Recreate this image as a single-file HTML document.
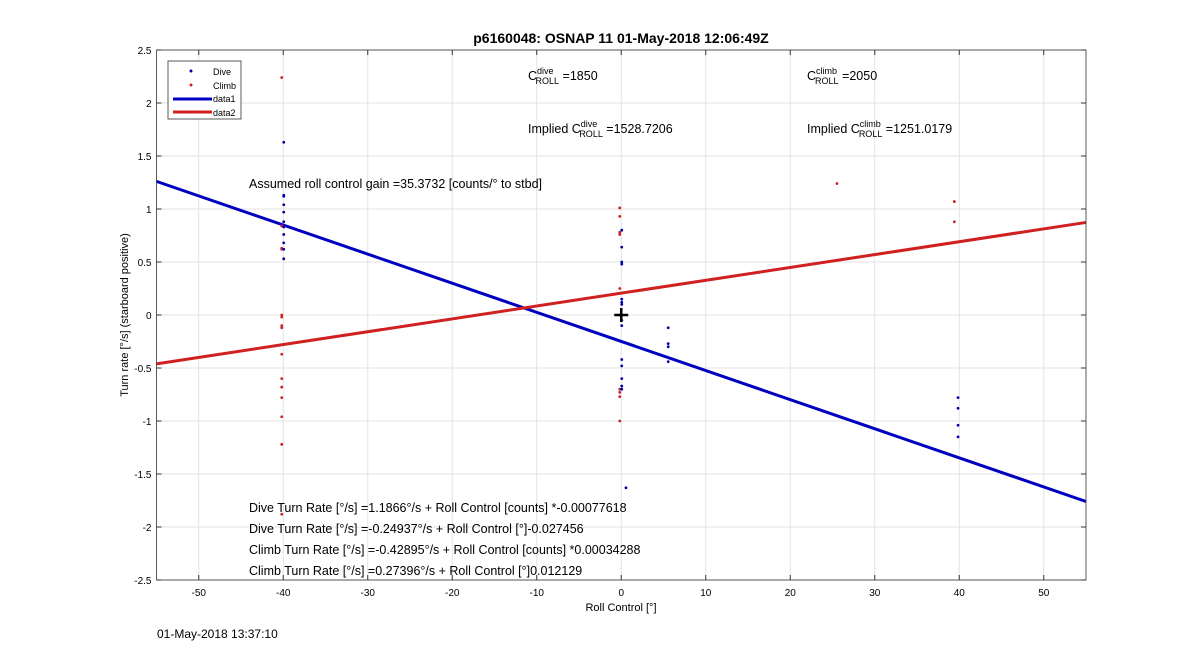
<!DOCTYPE html>
<html><head><meta charset="utf-8"><style>
body{margin:0;background:#fff;font-family:"Liberation Sans",sans-serif}
svg text{font-family:"Liberation Sans",sans-serif}
</style></head><body>
<svg width="1200" height="652" xmlns="http://www.w3.org/2000/svg" id="c">
<text x="621" y="43" text-anchor="middle" font-size="14" font-weight="bold">p6160048: OSNAP 11 01-May-2018 12:06:49Z</text>
<g id="grid"></g><g id="marks"></g><g id="axes"></g>
<text x="621" y="611" text-anchor="middle" font-size="11">Roll Control [°]</text>
<text transform="translate(128,315) rotate(-90)" text-anchor="middle" font-size="11">Turn rate [°/s] (starboard positive)</text>
<g font-size="12.5">
<text x="528" y="80">C<tspan font-size="9" dy="-6">dive</tspan><tspan font-size="9" dx="-18" dy="10">ROLL</tspan><tspan dy="-4"> =1850</tspan></text>
<text x="807" y="80">C<tspan font-size="9" dy="-6">climb</tspan><tspan font-size="9" dx="-22" dy="10">ROLL</tspan><tspan dy="-4"> =2050</tspan></text>
<text x="528" y="133">Implied C<tspan font-size="9" dy="-6">dive</tspan><tspan font-size="9" dx="-18" dy="10">ROLL</tspan><tspan dy="-4"> =1528.7206</tspan></text>
<text x="807" y="133">Implied C<tspan font-size="9" dy="-6">climb</tspan><tspan font-size="9" dx="-22" dy="10">ROLL</tspan><tspan dy="-4"> =1251.0179</tspan></text>
<text x="249" y="188">Assumed roll control gain =35.3732 [counts/° to stbd]</text>
<text x="249" y="512">Dive Turn Rate [°/s] =1.1866°/s + Roll Control [counts] *-0.00077618</text>
<text x="249" y="533">Dive Turn Rate [°/s] =-0.24937°/s + Roll Control [°]-0.027456</text>
<text x="249" y="554">Climb Turn Rate [°/s] =-0.42895°/s + Roll Control [counts] *0.00034288</text>
<text x="249" y="575">Climb Turn Rate [°/s] =0.27396°/s + Roll Control [°]0.012129</text>
</g>
<text x="157" y="638" font-size="12">01-May-2018 13:37:10</text>
<g>
<rect x="168" y="61" width="73" height="58" fill="#fff" stroke="#333" stroke-width="0.8"/>
<circle cx="191" cy="71" r="1.5" fill="#0000b0"/><text x="213" y="75" font-size="9">Dive</text>
<circle cx="191" cy="85" r="1.5" fill="#d02020"/><text x="213" y="89" font-size="9">Climb</text>
<line x1="173" y1="99" x2="212" y2="99" stroke="#0000c0" stroke-width="3"/><text x="213" y="102" font-size="9">data1</text>
<line x1="173" y1="112" x2="212" y2="112" stroke="#d02020" stroke-width="3"/><text x="213" y="116" font-size="9">data2</text>
</g>
</svg>
<script>
const xTicks=[-50,-40,-30,-20,-10,0,10,20,30,40,50];
const yTicks=[-2.5,-2,-1.5,-1,-0.5,0,0.5,1,1.5,2,2.5];
const diveX=[-40,-40,-40,-40,-40,-40,-40,-40,-40,-40,-40,0,0,0,0,0,0,0,0,0,0,0,0,0,0,0.5,5.5,5.5,5.5,5.5,39.8,39.8,39.8,39.8];
const diveY=[1.63,1.13,1.12,1.04,0.97,0.88,0.83,0.76,0.68,0.62,0.53,0.80,0.64,0.5,0.48,0.15,0.12,0.1,-0.05,-0.1,-0.42,-0.48,-0.6,-0.67,-0.7,-1.63,-0.12,-0.27,-0.3,-0.44,-0.78,-0.88,-1.04,-1.15];
const climbX=[-40,-40,-40,-40,-40,-40,-40,-40,-40,-40,-40,-40,-40,-40,-40,0,0,0,0,0,0,0,0,0,0,25.7,39.6,39.6];
const climbY=[2.24,0.84,0.63,0.62,0.0,-0.02,-0.1,-0.12,-0.37,-0.6,-0.68,-0.78,-0.96,-1.22,-1.88,1.01,0.93,0.78,0.76,0.25,0.0,-0.7,-0.73,-0.77,-1.0,1.24,1.07,0.88];
const diveFit=[-0.24937,-0.027456];
const climbFit=[0.206,0.012129];
const X0=156.5,X1=1086,Y0=50,Y1=580,xmin=-55,xmax=55,ymin=-2.5,ymax=2.5;
const sx=v=>X0+(v-xmin)/(xmax-xmin)*(X1-X0);
const sy=v=>Y1-(v-ymin)/(ymax-ymin)*(Y1-Y0);
const NS="http://www.w3.org/2000/svg";
function mk(p,t,a){const e=document.createElementNS(NS,t);for(const k in a)e.setAttribute(k,a[k]);p.appendChild(e);return e;}
const G=document.getElementById('grid'),M=document.getElementById('marks'),A=document.getElementById('axes');
xTicks.forEach(v=>{const l=mk(G,'line',{x1:sx(v),x2:sx(v),y1:Y0,y2:Y1,stroke:'#e3e3e3'});

const t=mk(A,'text',{x:sx(v),y:Y1+16,'text-anchor':'middle','font-size':10});t.textContent=v;

mk(A,'line',{x1:sx(v),x2:sx(v),y1:Y1,y2:Y1-5,stroke:'#333'});mk(A,'line',{x1:sx(v),x2:sx(v),y1:Y0,y2:Y0+5,stroke:'#333'});});
yTicks.forEach(v=>{const l=mk(G,'line',{x1:X0,x2:X1,y1:sy(v),y2:sy(v),stroke:'#e3e3e3'});

const t=mk(A,'text',{x:X0-5,y:sy(v)+4,'text-anchor':'end','font-size':10});t.textContent=v;

mk(A,'line',{x1:X0,x2:X0+5,y1:sy(v),y2:sy(v),stroke:'#333'});mk(A,'line',{x1:X1,x2:X1-5,y1:sy(v),y2:sy(v),stroke:'#333'});});
const fr=mk(A,'rect',{x:X0,y:Y0,width:X1-X0,height:Y1-Y0,fill:'none',stroke:'#333','stroke-width':0.8});

[[diveFit,'#0000c0','dive-fit-line'],[climbFit,'#d02020','climb-fit-line']].forEach(([f,c,n])=>{
const l=mk(M,'line',{x1:sx(xmin),y1:sy(f[0]+f[1]*xmin),x2:sx(xmax),y2:sy(f[0]+f[1]*xmax),stroke:c,'stroke-width':3});
});
climbX.forEach((x,i)=>{const c=mk(M,'circle',{cx:sx(x)-1.5,cy:sy(climbY[i]),r:1.4,fill:'#d02020'});
});
diveX.forEach((x,i)=>{const c=mk(M,'circle',{cx:sx(x)+0.5,cy:sy(diveY[i]),r:1.4,fill:'#0000b0'});
});
const cx=sx(0),cy=sy(0);
const p=mk(M,'path',{d:`M${cx-7},${cy}H${cx+7}M${cx},${cy-7}V${cy+7}`,stroke:'#000','stroke-width':2.5});

</script>
</body></html>
